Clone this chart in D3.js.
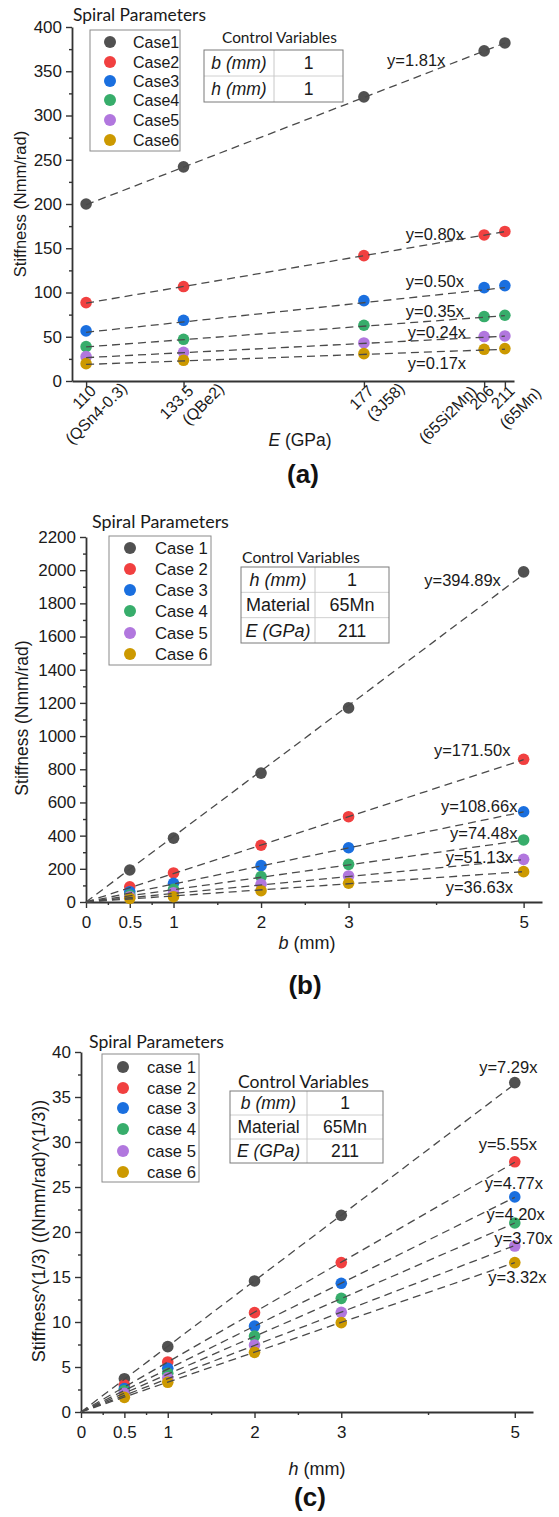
<!DOCTYPE html>
<html><head><meta charset="utf-8">
<script src="https://cdn.jsdelivr.net/npm/d3@7/dist/d3.min.js"></script>
<style>
html,body{margin:0;padding:0;background:#fff;}
svg{display:block;}
</style></head><body>
<svg id="chart" width="559" height="1517"></svg>
<script>
// ================= DATA =================
const colors = ["#515151", "#F14040", "#1A6FDF", "#37AD6B", "#B177DE", "#CC9900"];

// ---- Panel (a): stiffness vs elastic modulus E ----
const casesA = ["Case1", "Case2", "Case3", "Case4", "Case5", "Case6"];
const modulusE = [110, 133.5, 177, 206, 211];
const modulusLabels = ["110", "133.5", "177", "206", "211"];
const materialLabels = ["(QSn4-0.3)", "(QBe2)", "(3J58)", "(65Si2Mn)", "(65Mn)"];
const stiffA_case1 = [200, 242, 321, 373, 382];
const stiffA_case2 = [88.6, 106.7, 141.7, 165, 169];
const stiffA_case3 = [56.6, 68.6, 90.8, 105.5, 107.8];
const stiffA_case4 = [38.8, 47.1, 63, 72.8, 74.3];
const stiffA_case5 = [27.5, 32.4, 43, 50.2, 50.9];
const stiffA_case6 = [19.6, 23.4, 30.9, 35.8, 36.6];
const slopesA = [1.81, 0.80, 0.50, 0.35, 0.24, 0.17];
const eqLabelsA = ["y=1.81x", "y=0.80x", "y=0.50x", "y=0.35x", "y=0.24x", "y=0.17x"];
const yTicksA = [0, 50, 100, 150, 200, 250, 300, 350, 400];
const yMinorA = [25, 75, 125, 175, 225, 275, 325, 375];
const controlA = [["b (mm)", "1"], ["h (mm)", "1"]];

// ---- Panel (b): stiffness vs width b ----
const casesB = ["Case 1", "Case 2", "Case 3", "Case 4", "Case 5", "Case 6"];
const widthB = [0.5, 1, 2, 3, 5];
const stiffB_case1 = [193, 385, 777, 1170, 1990];
const stiffB_case2 = [92, 175, 342, 514, 860];
const stiffB_case3 = [62, 113, 219, 327, 544];
const stiffB_case4 = [42, 76, 153, 227, 374];
const stiffB_case5 = [32, 56, 107, 157, 257];
const stiffB_case6 = [22, 32, 68, 113, 183];
const slopesB = [394.89, 171.50, 108.66, 74.48, 51.13, 36.63];
const eqLabelsB = ["y=394.89x", "y=171.50x", "y=108.66x", "y=74.48x", "y=51.13x", "y=36.63x"];
const yTicksB = [0, 200, 400, 600, 800, 1000, 1200, 1400, 1600, 1800, 2000, 2200];
const yMinorB = [100, 300, 500, 700, 900, 1100, 1300, 1500, 1700, 1900, 2100];
const controlB = [["h (mm)", "1"], ["Material", "65Mn"], ["E (GPa)", "211"]];

// ---- Panel (c): cube root of stiffness vs thickness h ----
const casesC = ["case 1", "case 2", "case 3", "case 4", "case 5", "case 6"];
const thickC = [0.5, 1, 2, 3, 5];
const cbrtC_case1 = [3.7, 7.26, 14.56, 21.85, 36.6];
const cbrtC_case2 = [3.0, 5.56, 11.04, 16.6, 27.8];
const cbrtC_case3 = [2.6, 4.85, 9.55, 14.3, 23.9];
const cbrtC_case4 = [2.37, 4.3, 8.44, 12.63, 21.0];
const cbrtC_case5 = [2.07, 3.8, 7.44, 11.07, 18.44];
const cbrtC_case6 = [1.63, 3.3, 6.63, 9.93, 16.6];
const slopesC = [7.29, 5.55, 4.77, 4.20, 3.70, 3.32];
const eqLabelsC = ["y=7.29x", "y=5.55x", "y=4.77x", "y=4.20x", "y=3.70x", "y=3.32x"];
const yTicksC = [0, 5, 10, 15, 20, 25, 30, 35, 40];
const yMinorC = [2.5, 7.5, 12.5, 17.5, 22.5, 27.5, 32.5, 37.5];
const controlC = [["b (mm)", "1"], ["Material", "65Mn"], ["E (GPa)", "211"]];

// shared x ticks for (b) and (c)
const xTicksBC = [0, 0.5, 1, 2, 3, 5];
const xMinorBC = [0.25, 0.75, 1.5, 2.5, 4];

// ================= DRAWING =================
const FONT = '"Liberation Sans", Arial, Helvetica, sans-serif';
const CAL = 'Lato, "Open Sans", sans-serif';
const AXIS = "#333333";
const TXT = "#1a1a1a";
const svg = d3.select("#chart");

function styleAxis(g, fs) {
  g.attr("font-family", FONT).attr("font-size", fs);
  g.select(".domain").attr("stroke", AXIS).attr("stroke-width", 1.8);
  g.selectAll(".tick line").attr("stroke", AXIS).attr("stroke-width", 1.4);
  g.selectAll(".tick text").attr("fill", TXT);
}

function fitWidth(sel, target) {
  const w = sel.node().getComputedTextLength();
  const fs = parseFloat(sel.attr("font-size"));
  if (w > 0) sel.attr("font-size", fs * target / w);
}

function drawPanel(cfg) {
  const g = svg.append("g");
  const x = cfg.x, y = cfg.y;
  const x0 = x.range()[0], yBase = y.range()[0];

  // y axis
  const ya = g.append("g").attr("transform", `translate(${x0},0)`)
    .call(d3.axisLeft(y).tickValues(cfg.yTicks).tickSize(6).tickSizeOuter(0)
      .tickPadding(4).tickFormat(d => String(d)));
  styleAxis(ya, 17);
  const yam = g.append("g").attr("transform", `translate(${x0},0)`)
    .call(d3.axisLeft(y).tickValues(cfg.yMinor).tickSize(3).tickSizeOuter(0).tickFormat(""));
  yam.select(".domain").remove();
  styleAxis(yam, 17);

  // x axis
  const xa = g.append("g").attr("transform", `translate(0,${yBase})`)
    .call(d3.axisBottom(x).tickValues(cfg.xTicks).tickSize(6).tickSizeOuter(0)
      .tickPadding(8).tickFormat(cfg.xFormat));
  styleAxis(xa, 17);
  if (cfg.xMinor) {
    const xam = g.append("g").attr("transform", `translate(0,${yBase})`)
      .call(d3.axisBottom(x).tickValues(cfg.xMinor).tickSize(3).tickSizeOuter(0).tickFormat(""));
    xam.select(".domain").remove();
    styleAxis(xam, 17);
  }

  // points (drawn first; dashed fits overlay them)
  cfg.series.forEach((vals, i) => {
    g.append("g").selectAll("circle").data(vals).join("circle")
      .attr("cx", (d, j) => x(cfg.xs[j]))
      .attr("cy", d => y(d))
      .attr("r", 5.8)
      .attr("fill", colors[i]);
  });

  // fitted lines y = k x
  const line = d3.line().x(d => x(d[0])).y(d => y(d[1]));
  cfg.slopes.forEach((k, i) => {
    const pts = cfg.lineRange.map(v => [v, k * v]);
    g.append("path").attr("d", line(pts))
      .attr("fill", "none").attr("stroke", "#4a4a4a")
      .attr("stroke-width", 1.3).attr("stroke-dasharray", "8,5");
  });

  // equation labels
  cfg.eqLabels.forEach((t, i) => {
    g.append("text").text(t)
      .attr("x", x(cfg.eqPos[i][0])).attr("y", y(cfg.eqPos[i][1]))
      .attr("dy", "0.35em").attr("text-anchor", cfg.eqAnchor)
      .attr("font-family", FONT).attr("font-size", 16.5).attr("fill", TXT);
  });

  // legend
  const L = cfg.legend;
  const lt = g.append("text").text("Spiral Parameters")
    .attr("x", L.titleX).attr("y", L.titleY)
    .attr("font-family", CAL).attr("font-size", 16).attr("fill", TXT);
  fitWidth(lt, L.titleW);
  g.append("rect").attr("x", L.box[0]).attr("y", L.box[1])
    .attr("width", L.box[2] - L.box[0]).attr("height", L.box[3] - L.box[1])
    .attr("fill", "#fff").attr("stroke", "#8a8a8a").attr("stroke-width", 1);
  cfg.cases.forEach((c, i) => {
    g.append("circle").attr("cx", L.mx).attr("cy", L.my[i]).attr("r", 6).attr("fill", colors[i]);
    g.append("text").text(c).attr("x", L.tx).attr("y", L.my[i]).attr("dy", "0.36em")
      .attr("font-family", FONT).attr("font-size", L.fs).attr("fill", TXT);
  });

  // control variable table
  const C = cfg.control;
  const ct = g.append("text").text("Control Variables")
    .attr("x", C.titleX).attr("y", C.titleY)
    .attr("font-family", CAL).attr("font-size", 15).attr("fill", TXT);
  fitWidth(ct, C.titleW);
  const rows = cfg.controlRows;
  const rh = (C.y1 - C.y0) / rows.length;
  rows.forEach((r, i) => {
    if (i > 0) g.append("line").attr("x1", C.x0).attr("x2", C.x1)
      .attr("y1", C.y0 + i * rh).attr("y2", C.y0 + i * rh)
      .attr("stroke", "#d0d0d0").attr("stroke-width", 1);
    const cy = C.y0 + (i + 0.5) * rh;
    g.append("text").text(r[0]).attr("x", (C.x0 + C.xm) / 2).attr("y", cy).attr("dy", "0.36em")
      .attr("text-anchor", "middle").attr("font-family", FONT).attr("font-size", C.fs)
      .attr("font-style", r[0].includes("(") ? "italic" : "normal").attr("fill", TXT);
    g.append("text").text(r[1]).attr("x", (C.xm + C.x1) / 2).attr("y", cy).attr("dy", "0.36em")
      .attr("text-anchor", "middle").attr("font-family", FONT).attr("font-size", C.fs).attr("fill", TXT);
  });
  g.append("line").attr("x1", C.xm).attr("x2", C.xm).attr("y1", C.y0).attr("y2", C.y1)
    .attr("stroke", "#c8c8c8").attr("stroke-width", 1);
  g.append("rect").attr("x", C.x0).attr("y", C.y0).attr("width", C.x1 - C.x0).attr("height", C.y1 - C.y0)
    .attr("fill", "none").attr("stroke", "#7a7a7a").attr("stroke-width", 1);

  // y title
  g.append("text").text(cfg.yTitle)
    .attr("transform", `translate(${cfg.yTitlePos[0]},${cfg.yTitlePos[1]}) rotate(-90)`)
    .attr("text-anchor", "middle").attr("dy", "0.35em")
    .attr("font-family", FONT).attr("font-size", cfg.yTitleFs).attr("fill", TXT);

  // x title
  const xt = g.append("text").attr("x", cfg.xTitlePos[0]).attr("y", cfg.xTitlePos[1])
    .attr("dy", "0.35em").attr("text-anchor", "middle")
    .attr("font-family", FONT).attr("font-size", cfg.xTitleFs).attr("fill", TXT);
  xt.append("tspan").text(cfg.xTitle[0]).attr("font-style", "italic");
  xt.append("tspan").text(" " + cfg.xTitle[1]);

  // panel tag
  g.append("text").text(cfg.tag).attr("x", cfg.tagPos[0]).attr("y", cfg.tagPos[1])
    .attr("dy", "0.35em").attr("text-anchor", "middle")
    .attr("font-family", FONT).attr("font-size", 26).attr("font-weight", "bold").attr("fill", "#111");
  return g;
}

// ---------- Panel (a) ----------
const xA = d3.scaleLinear().domain([106.6, 213.2]).range([72, 514]);
const yA = d3.scaleLinear().domain([0, 400]).range([381, 27]);
const gA = drawPanel({
  x: xA, y: yA, xTicks: modulusE, xMinor: null, xFormat: () => "",
  yTicks: yTicksA, yMinor: yMinorA,
  xs: modulusE,
  series: [stiffA_case1, stiffA_case2, stiffA_case3, stiffA_case4, stiffA_case5, stiffA_case6],
  slopes: slopesA, lineRange: [modulusE[0], modulusE[modulusE.length - 1]],
  eqLabels: eqLabelsA, eqAnchor: "start",
  eqPos: [[182.6, 363], [187.1, 166], [187.1, 113], [187.1, 79], [187.6, 55.4], [187.6, 20.4]],
  cases: casesA,
  legend: { titleX: 73, titleY: 20.5, titleW: 133, box: [90, 30, 180, 151], mx: 110,
            my: [42, 62, 81, 100, 120, 140], tx: 133, fs: 16 },
  control: { titleX: 222, titleY: 43, titleW: 115, x0: 204, x1: 343, xm: 274, y0: 50, y1: 102, fs: 17.5 },
  controlRows: controlA,
  yTitle: "Stiffness (Nmm/rad)", yTitlePos: [20, 204], yTitleFs: 16.5,
  xTitle: ["E", "(GPa)"], xTitlePos: [300, 440], xTitleFs: 17.5,
  tag: "(a)", tagPos: [303, 474]
});
// rotated two-line tick labels for (a)
const labOffA = [[23.7, 35.5], [23.3, 35.5], [23.4, 35.5], [-12.6, 3.5], [17, 35.5]];
modulusE.forEach((v, i) => {
  const tg = gA.append("g").attr("transform", `translate(${xA(v)},381) rotate(-45)`)
    .attr("font-family", FONT).attr("font-size", 16).attr("fill", TXT);
  tg.append("text").text(modulusLabels[i]).attr("x", 0).attr("y", 15.5).attr("text-anchor", "end");
  tg.append("text").text(materialLabels[i]).attr("x", labOffA[i][0]).attr("y", labOffA[i][1]).attr("text-anchor", "end");
});

// ---------- Panel (b) ----------
const xB = d3.scaleLinear().domain([0, 5.21]).range([86, 542]);
const yB = d3.scaleLinear().domain([0, 2200]).range([902, 537]);
drawPanel({
  x: xB, y: yB, xTicks: xTicksBC, xMinor: xMinorBC, xFormat: d => String(d),
  yTicks: yTicksB, yMinor: yMinorB,
  xs: widthB,
  series: [stiffB_case1, stiffB_case2, stiffB_case3, stiffB_case4, stiffB_case5, stiffB_case6],
  slopes: slopesB, lineRange: [0, 5],
  eqLabels: eqLabelsB, eqAnchor: "end",
  eqPos: [[4.74, 1941], [4.85, 916], [4.93, 579], [4.93, 416], [4.88, 271], [4.88, 90]],
  cases: casesB,
  legend: { titleX: 92, titleY: 528, titleW: 137, box: [109, 536, 211, 665], mx: 130,
            my: [548, 569, 590, 611, 633, 654], tx: 155, fs: 16.7 },
  control: { titleX: 242, titleY: 563, titleW: 118, x0: 241, x1: 389, xm: 315, y0: 567, y1: 643, fs: 18 },
  controlRows: controlB,
  yTitle: "Stiffness (Nmm/rad)", yTitlePos: [22, 718], yTitleFs: 17.5,
  xTitle: ["b", "(mm)"], xTitlePos: [307, 943], xTitleFs: 18,
  tag: "(b)", tagPos: [305, 985]
});

// ---------- Panel (c) ----------
const xC = d3.scaleLinear().domain([0, 5.21]).range([81, 533]);
const yC = d3.scaleLinear().domain([0, 40]).range([1412, 1052]);
drawPanel({
  x: xC, y: yC, xTicks: xTicksBC, xMinor: xMinorBC, xFormat: d => String(d),
  yTicks: yTicksC, yMinor: yMinorC,
  xs: thickC,
  series: [cbrtC_case1, cbrtC_case2, cbrtC_case3, cbrtC_case4, cbrtC_case5, cbrtC_case6],
  slopes: slopesC, lineRange: [0, 5],
  eqLabels: eqLabelsC, eqAnchor: "middle",
  eqPos: [[4.925, 38.3], [4.92, 29.8], [4.99, 25.4], [5.01, 22.0], [5.10, 19.3], [5.03, 15.0]],
  cases: casesC,
  legend: { titleX: 89, titleY: 1048, titleW: 135, box: [102, 1054, 199, 1182], mx: 123,
            my: [1067, 1088, 1108, 1129, 1151, 1172], tx: 147, fs: 16.6 },
  control: { titleX: 238, titleY: 1088, titleW: 131, x0: 230, x1: 383, xm: 307, y0: 1091, y1: 1163, fs: 17.5 },
  controlRows: controlC,
  yTitle: "Stiffness^(1/3) ((Nmm/rad)^(1/3))", yTitlePos: [39, 1231], yTitleFs: 18,
  xTitle: ["h", "(mm)"], xTitlePos: [317, 1469], xTitleFs: 18,
  tag: "(c)", tagPos: [310, 1497]
});
</script>
</body></html>
